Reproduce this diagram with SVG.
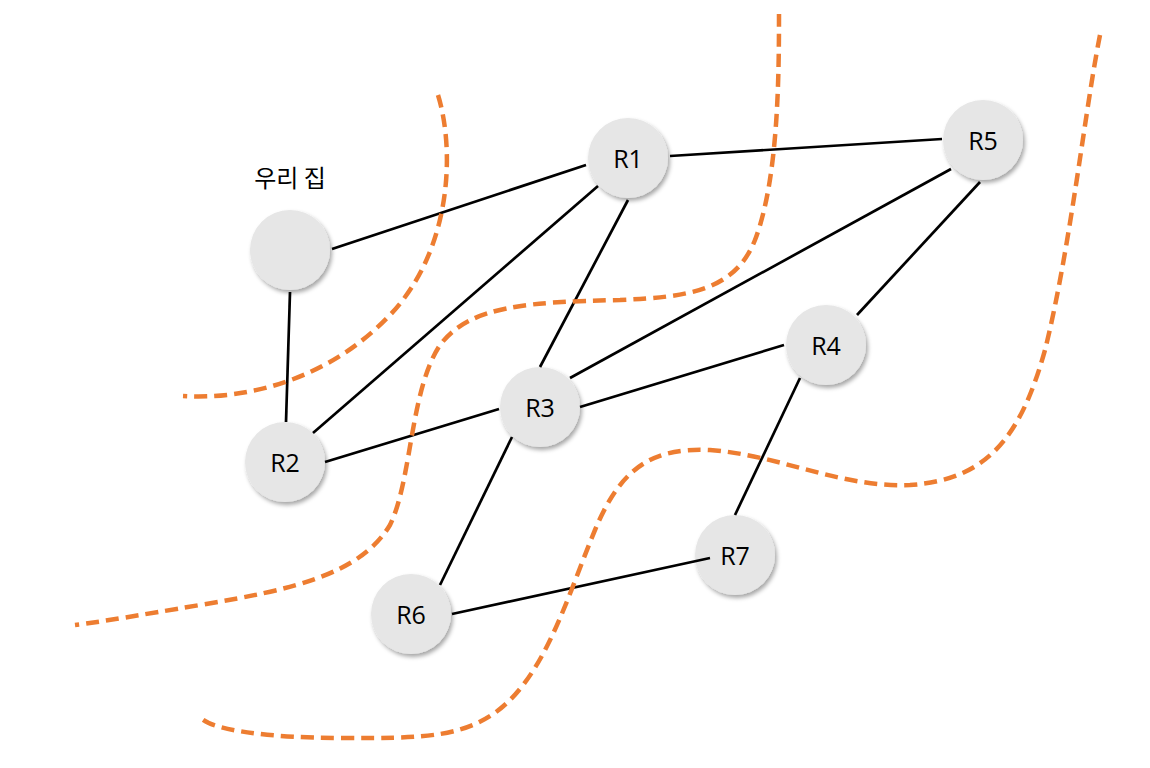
<svg xmlns="http://www.w3.org/2000/svg" width="1150" height="768" viewBox="0 0 1150 768">
<defs>
<filter id="sh" x="-30%" y="-30%" width="160%" height="160%">
<feDropShadow dx="2" dy="3" stdDeviation="2" flood-color="#000" flood-opacity="0.35"/>
</filter>
</defs>
<style>
.node circle{fill:#e6e6e6;filter:url(#sh)}
.node text{font-family:"Open Sans","Noto Sans","Noto Sans CJK KR",sans-serif;font-size:25px;fill:#000;text-anchor:middle;dominant-baseline:central}
.edge{stroke:#000;stroke-width:2.7;fill:none}
.cut{stroke:#ED7D31;stroke-width:4.5;fill:none;stroke-dasharray:13 7}
.lbl{font-family:"Noto Sans CJK KR","Open Sans",sans-serif;font-size:24px;fill:#000;text-anchor:middle;dominant-baseline:central}
</style>
<rect width="1150" height="768" fill="#fff"/>
<g id="nodes">
<g id="home" class="node"><circle cx="290" cy="250" r="40"/></g>
<g id="R1" class="node"><circle cx="628" cy="158" r="40"/><text x="628" y="158">R1</text></g>
<g id="R5" class="node"><circle cx="983" cy="140" r="40"/><text x="983" y="140">R5</text></g>
<g id="R4" class="node"><circle cx="826" cy="345" r="40"/><text x="826" y="345">R4</text></g>
<g id="R3" class="node"><circle cx="540" cy="407" r="40"/><text x="540" y="407">R3</text></g>
<g id="R2" class="node"><circle cx="285" cy="462" r="40"/><text x="285" y="462">R2</text></g>
<g id="R6" class="node"><circle cx="411" cy="614" r="40"/><text x="411" y="614">R6</text></g>
<g id="R7" class="node"><circle cx="735" cy="555" r="40"/><text x="735" y="555">R7</text></g>
</g>
<text id="home-label" class="lbl" x="290" y="176">우리 집</text>
<g id="connectors">
<line class="edge" x1="332" y1="249" x2="586" y2="165"/>
<line class="edge" x1="290" y1="292" x2="286" y2="422"/>
<line class="edge" x1="670" y1="156" x2="942" y2="139"/>
<line class="edge" x1="598" y1="186" x2="313" y2="433"/>
<line class="edge" x1="628" y1="200" x2="540" y2="367"/>
<line class="edge" x1="951" y1="169" x2="570" y2="378"/>
<line class="edge" x1="980" y1="182" x2="857" y2="315"/>
<line class="edge" x1="784" y1="345" x2="580" y2="407"/>
<line class="edge" x1="499" y1="409" x2="325" y2="462"/>
<line class="edge" x1="512" y1="437" x2="440" y2="585"/>
<line class="edge" x1="800" y1="378" x2="735" y2="515"/>
<line class="edge" x1="452" y1="614" x2="710" y2="558"/>
</g>
<g id="cuts">
<path class="cut" d="M438,95 C455,150 452,250 390,315 C330,378 250,400 183,396"/>
<path class="cut" d="M779,14 C779,80 778,180 755,240 C735,290 690,297 620,300 C530,302 470,305 440,345 C410,390 412,480 390,525 C360,575 290,590 200,605 C140,615 100,622 75,625"/>
<path class="cut" d="M1100,35 C1085,110 1070,250 1045,350 C1020,440 985,480 910,485 C840,488 780,455 710,450 C650,447 620,470 595,530 C570,590 550,660 510,700 C470,740 420,738 340,738 C270,738 210,730 200,717"/>
</g>
</svg>
